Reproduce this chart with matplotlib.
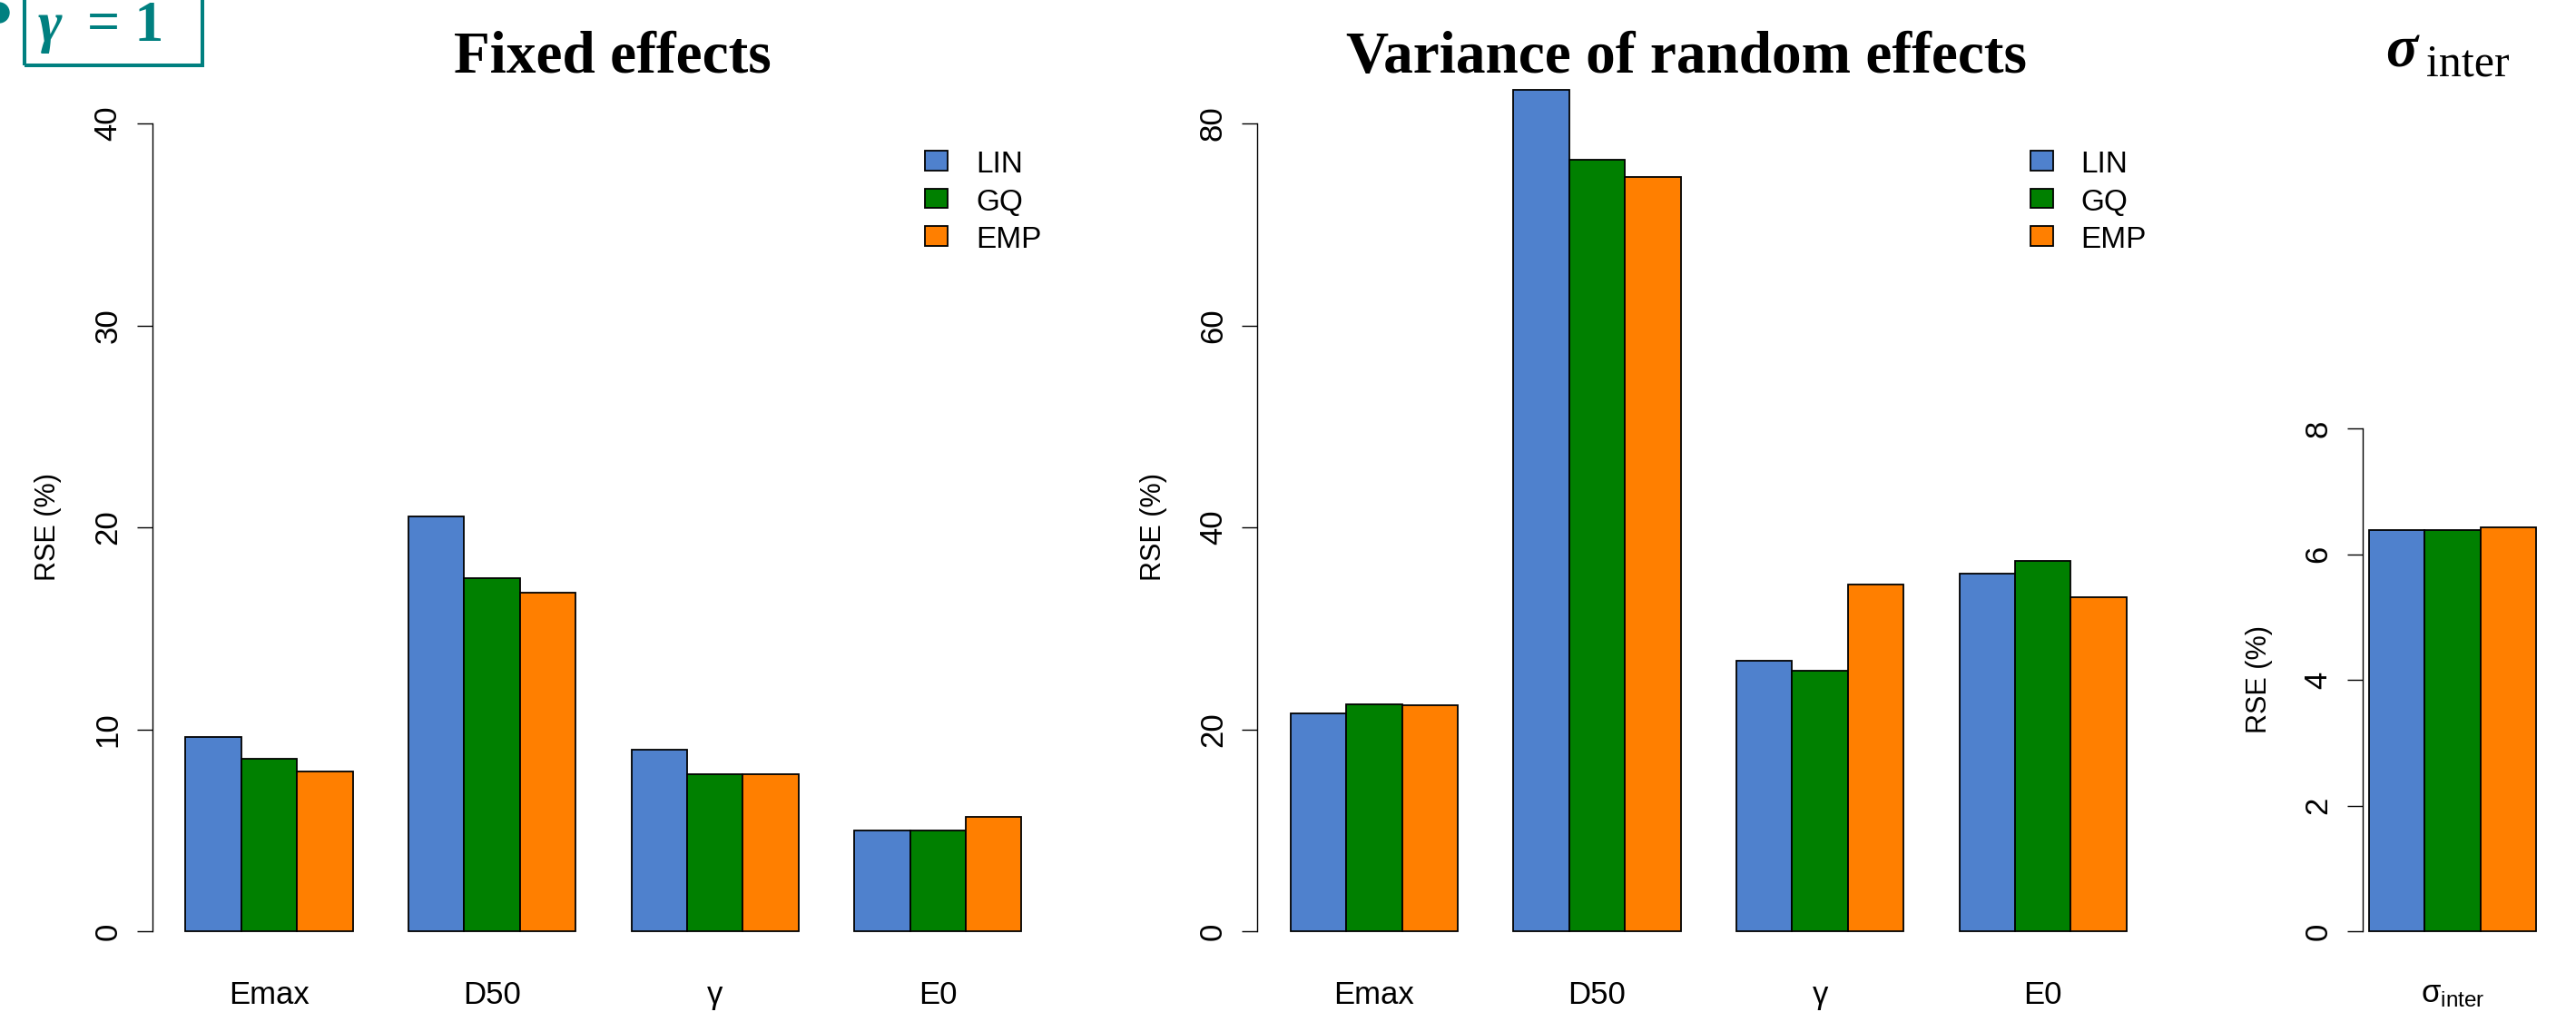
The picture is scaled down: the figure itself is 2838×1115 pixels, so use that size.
import numpy as np
import matplotlib.pyplot as plt
from matplotlib.patches import Rectangle, Ellipse

plt.rcParams['font.family'] = ['Liberation Sans', 'DejaVu Sans']
plt.rcParams['mathtext.fontset'] = 'custom'
plt.rcParams['mathtext.rm'] = 'Liberation Sans'
plt.rcParams['mathtext.it'] = 'Liberation Sans:italic'

# data
methods = ['LIN', 'GQ', 'EMP']
colors = ['#4F81CD', '#008000', '#FF7F00']

fixed_params = ['Emax', 'D50', 'γ', 'E0']
fixed_lin = [9.63, 20.55, 9.00, 5.00]
fixed_gq = [8.53, 17.47, 7.79, 4.98]
fixed_emp = [7.92, 16.75, 7.76, 5.67]

var_params = ['Emax', 'D50', 'γ', 'E0']
var_lin = [21.57, 83.3, 26.75, 35.4]
var_gq = [22.5, 76.4, 25.8, 36.7]
var_emp = [22.35, 74.7, 34.3, 33.1]

sigma_params = [r'$\mathrm{σ}_{\mathrm{inter}}$']
sigma_lin = [6.38]
sigma_gq = [6.38]
sigma_emp = [6.43]

W, H = 2838, 1115
UNIT = 61.4  # pixels per bar
TEAL = '#008080'

fig = plt.figure(figsize=(W / 100, H / 100), dpi=100)


def fx(x):
    return x / W


def fy(y):
    return 1 - y / H


def bar_panel(left_px, zero_px, top_tick_px, ymax_tick, ystep, series, labels, xpad):
    n = len(labels)
    lo, hi = 1, 4 * n
    ext = 0.04 * (hi - lo)
    xlim = (lo - ext, hi + ext)
    per_unit = (zero_px - top_tick_px) / ymax_tick
    ylim = (-0.04 * ymax_tick, 1.04 * ymax_tick)
    top_px = zero_px - ylim[1] * per_unit
    bottom_px = zero_px - ylim[0] * per_unit
    width_px = (xlim[1] - xlim[0]) * UNIT
    ax = fig.add_axes([fx(left_px), fy(bottom_px), width_px / W, (bottom_px - top_px) / H])

    for i, vals in enumerate(series):
        lefts = 1 + 4 * np.arange(n) + i
        ax.bar(lefts, vals, width=1, align='edge', color=colors[i],
               edgecolor='black', linewidth=1.3, clip_on=False)

    ax.set_xlim(*xlim)
    ax.set_ylim(*ylim)
    for s in ['top', 'right', 'bottom']:
        ax.spines[s].set_visible(False)
    ax.spines['left'].set_bounds(0, ymax_tick)
    ax.spines['left'].set_linewidth(1.0)

    yt = np.arange(0, ymax_tick + ystep / 2, ystep)
    ax.set_yticks(yt)
    ax.set_yticklabels([f'{int(v)}' for v in yt], rotation=90, va='center')
    ax.tick_params(axis='y', length=12.2, width=1.0, labelsize=25, pad=11)

    ax.set_xticks(1 + 4 * np.arange(n) + 1.5)
    ax.set_xticklabels(labels)
    ax.tick_params(axis='x', length=0, labelsize=25, pad=xpad)

    fig.text(fx(left_px - 114), fy((top_px + bottom_px) / 2), 'RSE (%)',
             rotation=90, fontsize=22, ha='center', va='center')
    return ax


def draw_legend(x0, y0):
    for i, m in enumerate(methods):
        top = y0 + 41.5 * i
        fig.add_artist(Rectangle((fx(x0), fy(top + 21.5)), 25 / W, 21.5 / H,
                                 transform=fig.transFigure, facecolor=colors[i],
                                 edgecolor='black', linewidth=1.3))
        fig.text(fx(x0 + 56), fy(top + 24), m, fontsize=24, ha='left', va='baseline')


ax1 = bar_panel(167.5, 1026, 136, 40, 10, [fixed_lin, fixed_gq, fixed_emp], fixed_params, 13)
ax2 = bar_panel(1385, 1026, 136, 80, 20, [var_lin, var_gq, var_emp], var_params, 13)
ax3 = bar_panel(2602.6, 1026, 472, 8, 2, [sigma_lin, sigma_gq, sigma_emp], sigma_params, 22)

draw_legend(167.5 + 851.5, 166)
draw_legend(1385 + 851.5, 166)

# titles
fig.text(fx(674.5), fy(80), 'Fixed effects', fontsize=47, fontweight='bold',
         family='Liberation Serif', ha='center', va='baseline')
fig.text(fx(1858), fy(80), 'Variance of random effects', fontsize=47, fontweight='bold',
         family='Liberation Serif', ha='center', va='baseline')
fig.text(fx(2628), fy(73), 'σ', fontsize=47, fontweight='bold', fontstyle='italic',
         family='Liberation Serif', ha='left', va='baseline')
fig.text(fx(2673), fy(84), 'inter', fontsize=36, family='Liberation Serif',
         ha='left', va='baseline')

# slide header: bullet and boxed gamma = 1
fig.add_artist(Ellipse((fx(-1), fy(14)), 22 / W, 22 / H, transform=fig.transFigure,
                       color=TEAL))
fig.add_artist(Rectangle((fx(27), fy(72)), 196 / W, 100 / H, transform=fig.transFigure,
                         fill=False, edgecolor=TEAL, linewidth=2.9))
fig.text(fx(42), fy(1), 'γ', fontsize=46, fontweight='bold', fontstyle='italic',
         family='Liberation Serif', color=TEAL, ha='left', va='top')
fig.text(fx(96), fy(1), '= 1', fontsize=46, fontweight='bold',
         family='Liberation Serif', color=TEAL, ha='left', va='top')

fig.savefig('out.png', dpi=100, facecolor='white')
